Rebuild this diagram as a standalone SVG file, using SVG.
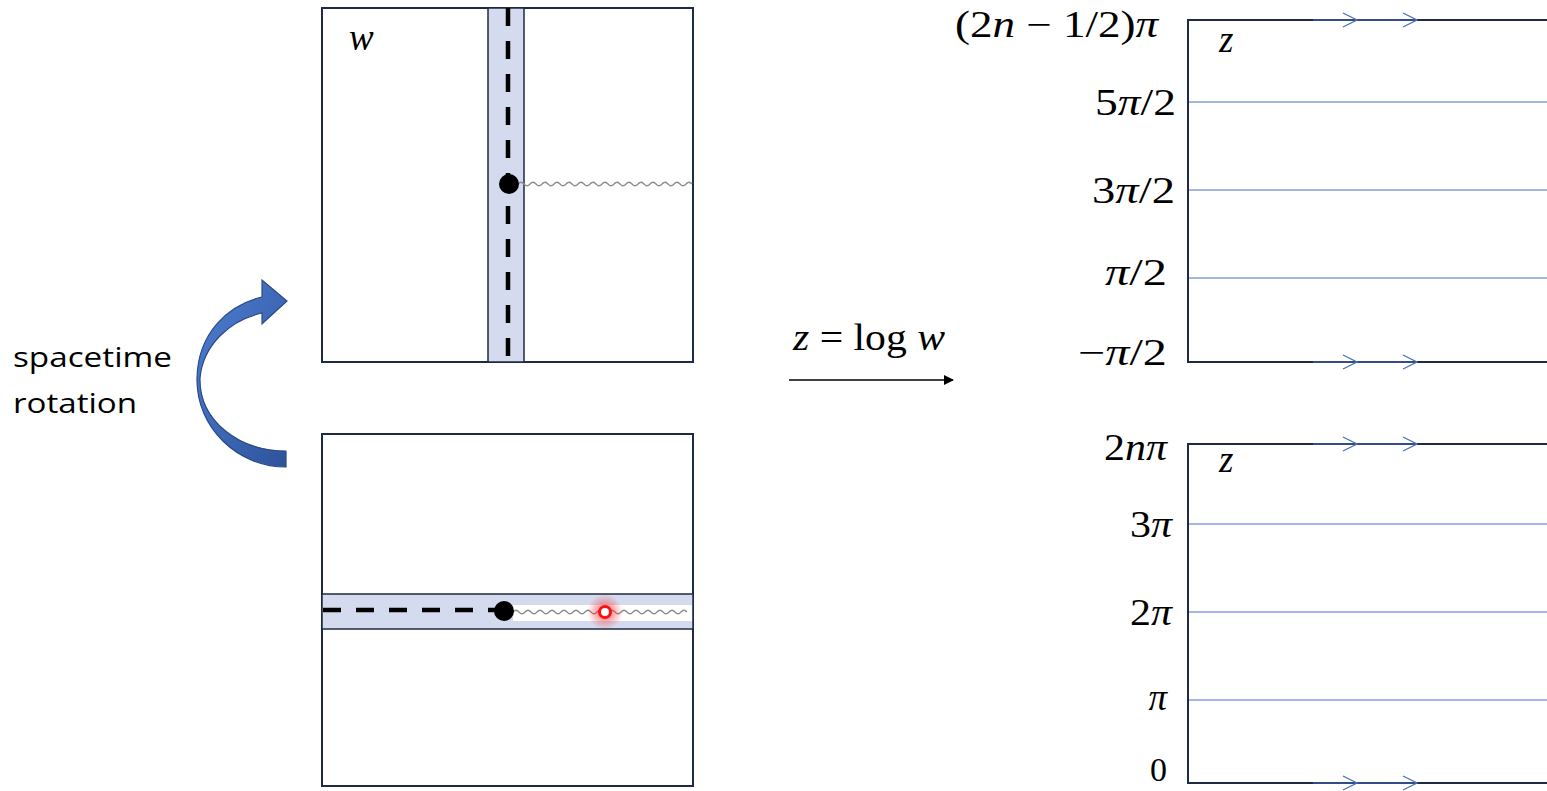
<svg xmlns="http://www.w3.org/2000/svg" width="1547" height="791" viewBox="0 0 1547 791">
<defs>
<style>
.box{fill:#fff;stroke:#1f2a44;stroke-width:2}
.strip{fill:#d4dbef;stroke:#1f2a44;stroke-width:1.5}
.dash{stroke:#000;stroke-width:4.5;stroke-dasharray:18 15;fill:none}
.wave{stroke:#8c8c8c;stroke-width:1.3;fill:none}
.grid{stroke:#4a6fc0;stroke-width:1}
.chev{stroke:#4a6fc0;stroke-width:1.3;fill:none}
.math{font-family:"Liberation Serif",serif;font-size:37px;fill:#000}
.var{font-style:italic}
.lbl{font-family:"Open Sans","Liberation Sans",sans-serif;font-size:28px;fill:#000}
</style>
<linearGradient id="blueg" x1="0" y1="0" x2="1" y2="1">
<stop offset="0" stop-color="#4f7fd3"/>
<stop offset="1" stop-color="#2d539a"/>
</linearGradient>
<radialGradient id="glow">
<stop offset="0" stop-color="#ff2020" stop-opacity="0.7"/>
<stop offset="1" stop-color="#ff2020" stop-opacity="0"/>
</radialGradient>
<marker id="ah" markerWidth="10" markerHeight="10" refX="9" refY="5" orient="auto" markerUnits="userSpaceOnUse">
<path d="M0,0 L10,5 L0,10 Z" fill="#000"/>
</marker>
</defs>
<rect width="1547" height="791" fill="#fff"/>

<g id="w-top">
<rect class="box" x="322" y="8" width="371" height="354"/>
<rect class="strip" x="488" y="8" width="36" height="354"/>
<line class="dash" x1="508" y1="8" x2="508" y2="362"/>
<path class="wave" d="M518,184 q3,-3.5 6,0 t6,0 t6,0 t6,0 t6,0 t6,0 t6,0 t6,0 t6,0 t6,0 t6,0 t6,0 t6,0 t6,0 t6,0 t6,0 t6,0 t6,0 t6,0 t6,0 t6,0 t6,0 t6,0 t6,0 t6,0 t6,0 t6,0 t6,0 t6,0"/>
<circle cx="509" cy="184" r="10" fill="#000"/>
<text class="math var" x="349" y="50">w</text>
</g>

<g id="w-bottom">
<rect class="box" x="322" y="434" width="371" height="352"/>
<rect class="strip" x="322" y="594" width="371" height="35"/>
<rect x="513" y="605" width="179" height="16" fill="#fff"/>
<line class="dash" x1="323" y1="610" x2="500" y2="610"/>
<path class="wave" d="M513,612 q3,-3.5 6,0 t6,0 t6,0 t6,0 t6,0 t6,0 t6,0 t6,0 t6,0 t6,0 t6,0 t6,0 t6,0 t6,0 t6,0 t6,0 t6,0 t6,0 t6,0 t6,0 t6,0 t6,0 t6,0 t6,0 t6,0 t6,0 t6,0 t6,0 t6,0"/>
<circle cx="504" cy="611" r="10" fill="#000"/>
<circle cx="605" cy="612" r="18" fill="url(#glow)"/>
<circle cx="605" cy="612" r="5.5" fill="#fff" stroke="#ff1010" stroke-width="3"/>
</g>

<g id="rotation">
<path d="M286,467 C238,467 196,428 197,378 C198,333 228,305 262,297 L262,280 L287,301 L262,324 L262,313 C230,320 203,345 200,378 C199,420 238,451 286,451 Z" fill="url(#blueg)" stroke="#2a4a88" stroke-width="1.2"/>
<text class="lbl" x="13" y="367" textLength="159" lengthAdjust="spacingAndGlyphs">spacetime</text>
<text class="lbl" x="13" y="413" textLength="124" lengthAdjust="spacingAndGlyphs">rotation</text>
</g>

<g id="map">
<text class="math" x="793" y="350" textLength="152" lengthAdjust="spacingAndGlyphs"><tspan class="var">z</tspan> = log <tspan class="var">w</tspan></text>
</g>

<g id="z-top">
<rect class="box" x="1188" y="20" width="380" height="342"/>
<line class="grid" x1="1189" y1="102" x2="1547" y2="102"/>
<line class="grid" x1="1189" y1="190" x2="1547" y2="190"/>
<line class="grid" x1="1189" y1="278" x2="1547" y2="278"/>
<line class="grid" x1="1313" y1="20" x2="1417" y2="20" stroke-width="1.5"/>
<path class="chev" d="M1343,13 L1357,20 L1343,27 M1403,13 L1417,20 L1403,27"/>
<line class="grid" x1="1313" y1="362" x2="1417" y2="362" stroke-width="1.5"/>
<path class="chev" d="M1343,355 L1357,362 L1343,369 M1403,355 L1417,362 L1403,369"/>
<text class="math var" x="1219" y="52">z</text>
<text class="math" x="1158" y="37" text-anchor="end" textLength="203" lengthAdjust="spacingAndGlyphs">(2<tspan class="var">n</tspan> − 1/2)<tspan class="var">π</tspan></text>
<text class="math" x="1176" y="115" text-anchor="end" textLength="81" lengthAdjust="spacingAndGlyphs">5<tspan class="var">π</tspan>/2</text>
<text class="math" x="1175" y="203" text-anchor="end" textLength="83" lengthAdjust="spacingAndGlyphs">3<tspan class="var">π</tspan>/2</text>
<text class="math" x="1167" y="285" text-anchor="end" textLength="62" lengthAdjust="spacingAndGlyphs"><tspan class="var">π</tspan>/2</text>
<text class="math" x="1167" y="365" text-anchor="end" textLength="89" lengthAdjust="spacingAndGlyphs">−<tspan class="var">π</tspan>/2</text>
</g>

<g id="z-bottom">
<rect class="box" x="1188" y="444" width="380" height="339"/>
<line class="grid" x1="1189" y1="524" x2="1547" y2="524"/>
<line class="grid" x1="1189" y1="612" x2="1547" y2="612"/>
<line class="grid" x1="1189" y1="700" x2="1547" y2="700"/>
<line class="grid" x1="1313" y1="444" x2="1417" y2="444" stroke-width="1.5"/>
<path class="chev" d="M1343,437 L1357,444 L1343,451 M1403,437 L1417,444 L1403,451"/>
<line class="grid" x1="1313" y1="783" x2="1417" y2="783" stroke-width="1.5"/>
<path class="chev" d="M1343,776 L1357,783 L1343,790 M1403,776 L1417,783 L1403,790"/>
<text class="math var" x="1219" y="472">z</text>
<text class="math" x="1167" y="460" text-anchor="end" textLength="63" lengthAdjust="spacingAndGlyphs">2<tspan class="var">nπ</tspan></text>
<text class="math" x="1172" y="537" text-anchor="end" textLength="42" lengthAdjust="spacingAndGlyphs">3<tspan class="var">π</tspan></text>
<text class="math" x="1172" y="625" text-anchor="end" textLength="42" lengthAdjust="spacingAndGlyphs">2<tspan class="var">π</tspan></text>
<text class="math var" x="1167" y="710" text-anchor="end">π</text>
<text class="math" x="1167" y="781" text-anchor="end" style="font-size:34px">0</text>
</g>

<g id="connectors">
<line x1="789" y1="380" x2="953" y2="380" stroke="#000" stroke-width="1.3" marker-end="url(#ah)"/>
</g>
</svg>
